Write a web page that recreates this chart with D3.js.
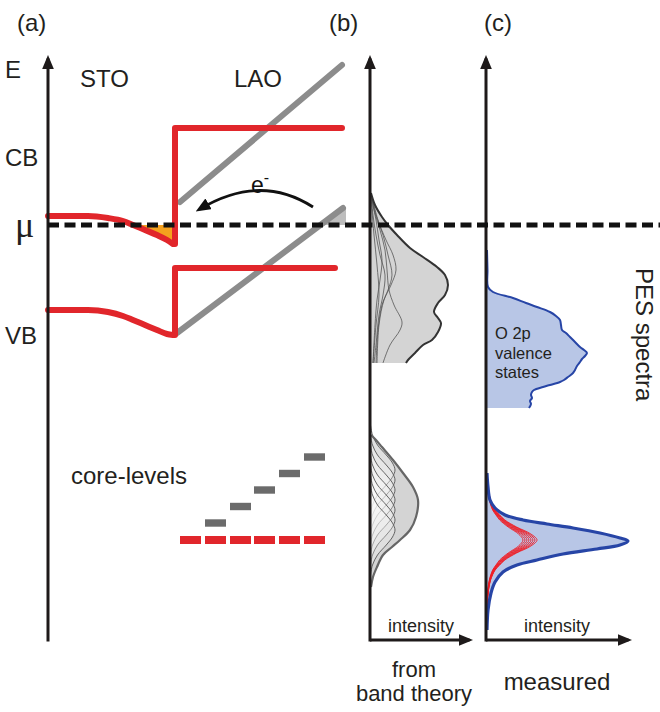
<!DOCTYPE html>
<html>
<head>
<meta charset="UTF-8">
<style>
  body { margin: 0; background: #fff; }
  svg { display: block; font-family: "Liberation Sans", Arial, sans-serif; }
</style>
</head>
<body>
<svg width="660" height="712"></svg>
<script src="https://d3js.org/d3.v7.min.js"></script>
<script>
// ---- data (energy E relative to mu, depth / intensity in arbitrary units) ----

// (a) band edges: [depth, E]
const stoCB = [[0, 0.9], [40, 0.9], [60, 0.7], [75, 0.4], [85, 0], [97, -0.5], [109, -1.0], [119, -1.5], [125, -1.9]];
const stoVB = [[0, -8.5], [40, -8.5], [60, -8.7], [75, -9.1], [85, -9.5], [97, -10.0], [109, -10.5], [119, -10.9], [125, -11.0]];
const interfaceDepth = 127;
const laoCBstep = [[127, 9.7], [294, 9.7]];
const laoVBstep = [[127, -4.3], [287, -4.3]];
const laoCBslope = [[132, 2.3], [294, 16.0]];
const laoVBslope = [[129, -10.8], [295, 1.7]];
const electronPocket = [[85, 0], [97, -0.5], [109, -1.0], [119, -1.5], [125, -1.8], [127, -1.8]];
const holeRegion = [[272, 0], [296, 1.7], [298, 1.7], [298, 0]];
const transferArrow = [[265, 1.8], [212, 5.2], [152, 1.6]];

// core levels
const laoCoreDepth = [157, 182, 206, 231, 256];
const laoCoreE = [-29.8, -28.15, -26.5, -24.85, -23.2];
const stoCoreDepth = [132, 157, 182, 206, 231, 256];
const stoCoreE = [-31.5, -31.5, -31.5, -31.5, -31.5, -31.5];
const barWidth = 21;

// (b) calculated DOS: [E, intensity]
const bValence = [[3.2, 1], [2.0, 5], [0.8, 12], [0, 18], [-1.0, 27], [-2.3, 40], [-3.2, 53], [-4.2, 67], [-5.0, 75],
  [-6.0, 78], [-7.0, 75], [-7.8, 68], [-8.7, 64], [-9.3, 68], [-9.8, 71], [-10.7, 68], [-11.5, 62], [-12.0, 53],
  [-12.8, 45], [-13.5, 38], [-13.8, 36]];
const bValenceLayers = [
  [[3.2, 1], [2, 3], [0.5, 6], [-1.5, 9], [-3.5, 12], [-5.5, 10], [-7.5, 7], [-10, 5], [-13.8, 3]],
  [[3.2, 1], [1.5, 4], [-0.5, 10], [-2.5, 15], [-4.5, 17], [-6.5, 19], [-8, 24], [-9.7, 32], [-10.5, 30], [-12, 20], [-13.8, 13]],
  [[3.2, 1], [1, 6], [-1, 13], [-3, 18], [-5, 22], [-6.5, 18], [-8, 12], [-10.5, 8], [-13.8, 6]],
  [[3.2, 1], [1, 3], [-1, 6], [-3, 10], [-5, 15], [-7, 13], [-9, 9], [-12, 6], [-13.8, 4]],
  [[3.2, 1], [0.5, 8], [-1.5, 16], [-3, 23], [-4.5, 26], [-6, 21], [-7.5, 14], [-10, 9], [-13.8, 7]],
  [[3.2, 1], [1.5, 2], [-1, 4], [-4, 7], [-7, 9], [-10, 6], [-13.8, 3]]
];
const bCore = [[-21.0, 1], [-21.5, 6], [-22.2, 12], [-23.5, 23], [-24.8, 33], [-26.2, 43], [-27.5, 48], [-29.2, 46],
  [-30.5, 40], [-31.5, 30], [-32.2, 22], [-33.0, 13], [-34.2, 7], [-35.2, 3], [-36.2, 1]];
const bCoreLayerCenters = [-24.5, -25.5, -26.5, -27.5, -28.5, -29.5, -30.5];
const bCoreLayerPeak = 25;
const bCoreLayerShape = [[-4.5, 0.02], [-3.5, 0.1], [-2.5, 0.3], [-1.5, 0.65], [-0.7, 0.9], [0, 1],
  [0.7, 0.9], [1.5, 0.65], [2.5, 0.3], [3.5, 0.1], [4.5, 0.02]];

// (c) measured spectra: [E, intensity]
const cValence = [[-2.5, 1], [-4.5, 1.5], [-6.2, 2], [-6.7, 7], [-7.3, 27], [-7.8, 40], [-8.2, 51], [-8.7, 64], [-9.1, 70],
  [-9.5, 74], [-10.0, 75], [-10.5, 76], [-10.8, 80], [-11.2, 84], [-11.7, 89], [-12.2, 94], [-12.5, 98], [-12.8, 101],
  [-13.1, 99], [-13.4, 96], [-13.7, 94], [-14.1, 91], [-14.5, 89], [-14.8, 87], [-15.2, 82], [-15.5, 78], [-15.7, 74],
  [-16.0, 64], [-16.2, 57], [-16.5, 48], [-16.7, 46], [-17.0, 45], [-17.3, 46], [-17.6, 44], [-17.9, 45], [-18.3, 43]];
const cCore = [[-24.8, 1], [-26.2, 2], [-27.5, 4], [-28.3, 9], [-29.0, 19], [-29.5, 37], [-29.9, 61], [-30.3, 87],
  [-30.8, 114], [-31.3, 134], [-31.6, 142], [-32.0, 134], [-32.4, 111], [-32.9, 77], [-33.5, 51], [-34.0, 31],
  [-34.7, 17], [-35.7, 9], [-36.8, 5], [-38.5, 2], [-40.5, 1]];
const cCoreComponentCenter = -31.5;
const cCoreComponentPeaks = [37, 39, 41, 43, 45, 47, 49, 51];
const cCoreComponentShape = [[-6.5, 0.02], [-5, 0.05], [-4, 0.09], [-3, 0.18], [-2.5, 0.27], [-2, 0.37], [-1.3, 0.6],
  [-0.6, 0.88], [0, 1], [0.6, 0.88], [1.3, 0.6], [2, 0.37], [2.5, 0.27], [3, 0.18], [4, 0.09], [5, 0.05], [6.5, 0.02]];

// ---- scales ----
const svg = d3.select("svg");
const yE = d3.scaleLinear().domain([-41.5, 17]).range([640, 55]);
const xA = d3.scaleLinear().domain([0, 300]).range([48, 348]);
const xB = d3.scaleLinear().domain([0, 100]).range([370, 470]);
const xC = d3.scaleLinear().domain([0, 150]).range([486, 636]);

const red = "#e1262b", grey = "#8c8c8c", blue = "#2745a6", ink = "#1e1a1a";

const defs = svg.append("defs");
defs.append("marker").attr("id", "ah")
  .attr("viewBox", "0 -5 12 10").attr("refX", 9).attr("refY", 0)
  .attr("markerUnits", "userSpaceOnUse").attr("markerWidth", 14).attr("markerHeight", 11.7)
  .attr("orient", "auto")
  .append("path").attr("d", "M0,-5L12,0L0,5Z").attr("fill", ink);
defs.append("marker").attr("id", "ahSmall")
  .attr("viewBox", "0 -5 12 10").attr("refX", 8).attr("refY", 0)
  .attr("markerUnits", "userSpaceOnUse").attr("markerWidth", 15).attr("markerHeight", 12.5)
  .attr("orient", "auto")
  .append("path").attr("d", "M0,-5L12,0L0,5Z").attr("fill", "#111");

// ---- panel (a) ----
const lineA = d3.line().x(d => xA(d[0])).y(d => yE(d[1]));

svg.append("path")
  .attr("d", d3.area().x(d => xA(d[0])).y0(yE(0)).y1(d => yE(d[1]))(electronPocket))
  .attr("fill", "#f4a11e");
svg.append("path")
  .attr("d", lineA(holeRegion) + "Z")
  .attr("fill", "#bdbdbd");

[laoCBslope, laoVBslope].forEach(s => {
  svg.append("path").attr("d", lineA(s))
    .attr("stroke", grey).attr("stroke-width", 6).attr("fill", "none").attr("stroke-linecap", "round");
});

const bandCurve = d3.line().x(d => xA(d[0])).y(d => yE(d[1])).curve(d3.curveMonotoneX);
[[stoCB, laoCBstep], [stoVB, laoVBstep]].forEach(([sto, lao]) => {
  let d = bandCurve(sto) + "L" + xA(interfaceDepth) + "," + yE(sto[sto.length - 1][1]);
  lao.forEach(p => { d += "L" + xA(p[0]) + "," + yE(p[1]); });
  svg.append("path").attr("d", d)
    .attr("stroke", red).attr("stroke-width", 6).attr("fill", "none")
    .attr("stroke-linecap", "round").attr("stroke-linejoin", "round");
});

// charge transfer arrow
const ap = d3.path();
ap.moveTo(xA(transferArrow[0][0]), yE(transferArrow[0][1]));
ap.quadraticCurveTo(xA(transferArrow[1][0]), yE(transferArrow[1][1]), xA(transferArrow[2][0]), yE(transferArrow[2][1]));
svg.append("path").attr("d", ap.toString())
  .attr("stroke", "#111").attr("stroke-width", 2.8).attr("fill", "none")
  .attr("marker-end", "url(#ahSmall)");
const eLab = svg.append("text").attr("x", 251).attr("y", 193).attr("font-size", 23).attr("fill", "#111").text("e");
eLab.append("tspan").attr("dy", -10).attr("font-size", 16).text("-");

// core levels
svg.selectAll("rect.lao").data(laoCoreDepth).enter().append("rect")
  .attr("class", "lao")
  .attr("x", d => xA(d)).attr("width", d => xA(d + barWidth) - xA(d))
  .attr("y", (d, i) => yE(laoCoreE[i] + 0.37)).attr("height", (d, i) => yE(laoCoreE[i] - 0.37) - yE(laoCoreE[i] + 0.37))
  .attr("fill", "#6b6b6b");
svg.selectAll("rect.sto").data(stoCoreDepth).enter().append("rect")
  .attr("class", "sto")
  .attr("x", d => xA(d)).attr("width", d => xA(d + barWidth) - xA(d))
  .attr("y", (d, i) => yE(stoCoreE[i] + 0.4)).attr("height", (d, i) => yE(stoCoreE[i] - 0.4) - yE(stoCoreE[i] + 0.4))
  .attr("fill", red);

// ---- panel (b) ----
const areaB = d3.area().y(d => yE(d[0])).x0(xB(0)).x1(d => xB(d[1])).curve(d3.curveCatmullRom);
const lineB = d3.line().y(d => yE(d[0])).x(d => xB(d[1])).curve(d3.curveCatmullRom);

svg.append("path").attr("d", areaB(bValence)).attr("fill", "#d4d4d4");
bValenceLayers.forEach(l => {
  svg.append("path").attr("d", lineB(l)).attr("stroke", "#555").attr("stroke-width", 0.8).attr("fill", "none");
});
svg.append("path").attr("d", lineB(bValence)).attr("stroke", "#333").attr("stroke-width", 2).attr("fill", "none");

svg.append("path").attr("d", areaB(bCore)).attr("fill", "#d4d4d4");
bCoreLayerCenters.forEach(c => {
  const layer = bCoreLayerShape.map(p => [c + p[0], p[1] * bCoreLayerPeak]);
  svg.append("path").attr("d", areaB(layer)).attr("fill", "#fff").attr("fill-opacity", 0.25);
  svg.append("path").attr("d", lineB(layer)).attr("stroke", "#555").attr("stroke-width", 0.9).attr("fill", "none");
});
svg.append("path").attr("d", lineB(bCore)).attr("stroke", "#666").attr("stroke-width", 2.2).attr("fill", "none");

// ---- panel (c) ----
const areaC = d3.area().y(d => yE(d[0])).x0(xC(0)).x1(d => xC(d[1])).curve(d3.curveCatmullRom);
const lineC = d3.line().y(d => yE(d[0])).x(d => xC(d[1])).curve(d3.curveCatmullRom);

svg.append("path").attr("d", areaC(cValence)).attr("fill", "#b8c6e6");
svg.append("path").attr("d", lineC(cValence)).attr("stroke", blue).attr("stroke-width", 2).attr("fill", "none");

svg.append("path").attr("d", areaC(cCore)).attr("fill", "#b8c6e6");
cCoreComponentPeaks.forEach(pk => {
  const comp = cCoreComponentShape.map(p => [cCoreComponentCenter + p[0], p[1] * pk]);
  svg.append("path").attr("d", lineC(comp)).attr("stroke", "#ee1c24").attr("stroke-width", 0.9).attr("fill", "none");
});
svg.append("path").attr("d", lineC(cCore)).attr("stroke", blue).attr("stroke-width", 3.2).attr("fill", "none");

// ---- axes ----
const axisStyle = s => s.attr("stroke", ink).attr("stroke-width", 3).attr("fill", "none");
[xA(0), xB(0), xC(0)].forEach(x => {
  svg.append("line").attr("x1", x).attr("x2", x).attr("y1", yE(-41.5) + 1.5).attr("y2", yE(16.65))
    .call(axisStyle).attr("marker-end", "url(#ah)");
});
svg.append("line").attr("x1", xB(0)).attr("x2", xB(99.5)).attr("y1", yE(-41.5)).attr("y2", yE(-41.5))
  .call(axisStyle).attr("marker-end", "url(#ah)");
svg.append("line").attr("x1", xC(0)).attr("x2", xC(142.5)).attr("y1", yE(-41.5)).attr("y2", yE(-41.5))
  .call(axisStyle).attr("marker-end", "url(#ah)");

// chemical potential
svg.append("line").attr("x1", xA(0)).attr("x2", 660).attr("y1", yE(0)).attr("y2", yE(0))
  .attr("stroke", "#111").attr("stroke-width", 5).attr("stroke-dasharray", "11,5.5");

// ---- text ----
const txt = (x, y, s, size, anchor) => svg.append("text").attr("x", x).attr("y", y)
  .attr("font-size", size).attr("text-anchor", anchor || "start").attr("fill", "#231f20").text(s);

txt(17, 31, "(a)", 24);
txt(329, 31, "(b)", 24);
txt(484, 31, "(c)", 24);
txt(5, 78, "E", 24);
txt(80, 87, "STO", 24);
txt(234, 87, "LAO", 24);
txt(5, 166, "CB", 24);
txt(5, 344, "VB", 24);
txt(15, 237, "\u03bc", 36).attr("font-family", "Liberation Serif, serif");
txt(71, 484, "core-levels", 24);
txt(421, 632, "intensity", 18, "middle");
txt(557, 632, "intensity", 18, "middle");
txt(414, 677, "from", 22, "middle");
txt(414, 701, "band theory", 22, "middle");
txt(557, 690, "measured", 24, "middle");
txt(495, 339, "O 2p", 16.5);
txt(495, 358.5, "valence", 16.5);
txt(495, 378, "states", 16.5);
svg.append("text").attr("transform", "translate(636,268) rotate(90)")
  .attr("font-size", 24).attr("fill", "#231f20").text("PES spectra");
</script>
</body>
</html>
